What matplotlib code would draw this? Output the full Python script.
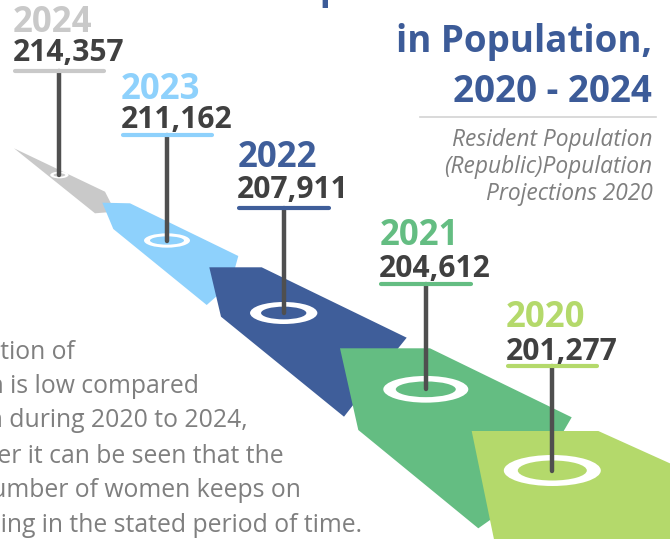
import matplotlib
matplotlib.use("Agg")
import matplotlib.pyplot as plt
from matplotlib.patches import Polygon, Ellipse

plt.rcParams['font.family'] = ['Open Sans', 'DejaVu Sans']

# data
years = ['2020', '2021', '2022', '2023', '2024']
population = [201277, 204612, 207911, 211162, 214357]
year_colors = ['#b4d96b', '#64bd82', '#3f5e9a', '#8ed1fc', '#c9c9c9']

title_lines = ['Proportion of Women', 'in Population,', '2020 - 2024']
source_lines = ['Resident Population', '(Republic)Population', 'Projections 2020']
body_lines = ['The proportion of',
              'women population is low compared',
              'to men population during 2020 to 2024,',
              'however it can be seen that the',
              'number of women keeps on',
              'increasing in the stated period of time.']

# layout, in pixels of the 670x539 canvas (y grows downward)
label_x = [506, 379.3, 237.3, 120.7, 12.7]
year_base = [326.7, 245, 167.3, 99, 31.7]
value_base = [360, 276.7, 198.3, 128.3, 61]
line_y = [365.7, 284.3, 208, 135.3, 70.5]
ring_x = [552.3, 425.8, 283.7, 167, 59.4]
ring_y = [470.5, 389.3, 313, 240.5, 175]
ring_outer = [(97, 31), (85, 26.7), (67.3, 22), (46, 14.3), (18.3, 6.7)]
ring_inner = [(69, 20), (60, 15.7), (45.3, 12.7), (34, 8.3), (11.7, 3.3)]

# road segments: top-left, top end, front tip, bottom tip, elbow
road = [
    [(471.7, 431), (598.3, 431), (760, 504), (760, 620), (510.6, 620)],
    [(340, 348.3), (430, 348.3), (571.7, 417.3), (478.3, 528.3), (358.3, 430)],
    [(209.3, 267.3), (261.7, 267.3), (406.7, 337.7), (344, 416.7), (221, 316.7)],
    [(102.3, 202.7), (130, 203.3), (238.3, 256), (206.7, 305), (113.3, 229)],
    [(14, 148.3), (14, 148.3), (105, 191.7), (95, 213.3), (14, 148.3)],
]

fig = plt.figure(figsize=(6.7, 5.39), dpi=100)
ax = fig.add_axes([0, 0, 1, 1])
ax.set_xlim(0, 670)
ax.set_ylim(539, 0)
ax.axis('off')

# draw road from the far end (2024) to the near end (2020)
for i in range(len(years) - 1, -1, -1):
    A, B, C, D, E = road[i]
    if i == 0:
        verts = [A, B, C, D, E]
    else:
        nA, nB, _, _, nE = road[i - 1]
        X = ((nA[0] + nB[0] + nE[0]) / 3, (nA[1] + nB[1] + nE[1]) / 3)
        verts = [A, B, C, X, D, E]
    ax.add_patch(Polygon(verts, closed=True, facecolor='white', edgecolor='white',
                         lw=16.5, joinstyle='miter', zorder=1))
    ax.add_patch(Polygon(verts, closed=True, facecolor=year_colors[i],
                         edgecolor='none', zorder=2))

for i in range(len(years)):
    c = year_colors[i]
    ax.add_patch(Ellipse((ring_x[i], ring_y[i]), *ring_outer[i], facecolor='white', zorder=3))
    ax.add_patch(Ellipse((ring_x[i], ring_y[i]), *ring_inner[i], facecolor=c, zorder=3))
    ax.plot([ring_x[i], ring_x[i]], [line_y[i], ring_y[i]], color='#4f4f4f', lw=3.2,
            solid_capstyle='round', zorder=4)
    ax.plot([label_x[i] + 2, label_x[i] + 91.3], [line_y[i], line_y[i]], color=c, lw=3,
            solid_capstyle='round', zorder=4)
    ax.text(label_x[i], year_base[i], years[i], color=c, fontsize=25, weight='bold',
            va='baseline', ha='left', zorder=5)
    ax.text(label_x[i], value_base[i], f'{population[i]:,}', color='#404040', fontsize=21.6,
            weight='bold', va='baseline', ha='left', zorder=5)

# title block
for txt, yb in zip(title_lines, [-1, 52, 101.7]):
    ax.text(652, yb, txt, color='#3c5b98', fontsize=26.5, weight='bold',
            ha='right', va='baseline', clip_on=False)
ax.plot([420, 656], [116.7, 116.7], color='#d3d3d3', lw=1.2)
for txt, yb in zip(source_lines, [145.5, 173, 200.5]):
    ax.text(652.7, yb, txt, color='#7f7f7f', fontsize=16.4, style='italic',
            ha='right', va='baseline')

# body text, cut by the left edge
body_right = [75.3, 199.3, 247.3, 283.3, 300.7, 361.7]
body_base = [359.3, 393.3, 427.3, 462.7, 496.7, 531.7]
for txt, xr, yb in zip(body_lines, body_right, body_base):
    ax.text(xr, yb, txt, color='#7f7f7f', fontsize=17.8, ha='right', va='baseline',
            clip_on=False)

fig.savefig('out.png', dpi=100)
